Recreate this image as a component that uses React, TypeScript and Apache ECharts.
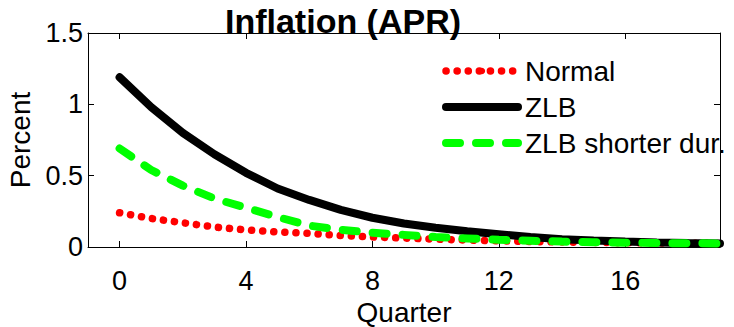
import React, { useEffect, useRef } from "react";
import * as echarts from "echarts";

const quarters = [0, 1, 2, 3, 4, 5, 6, 7, 8, 9, 10, 11, 12, 13, 14, 15, 16, 17, 18, 19];
const normal = [0.24, 0.2, 0.17, 0.14, 0.12, 0.105, 0.095, 0.08, 0.07, 0.062, 0.055, 0.048, 0.043, 0.038, 0.035, 0.032, 0.03, 0.028, 0.026, 0.025];
const zlb = [1.19, 0.98, 0.8, 0.65, 0.52, 0.41, 0.33, 0.26, 0.205, 0.165, 0.135, 0.11, 0.09, 0.07, 0.055, 0.045, 0.038, 0.032, 0.028, 0.025];
const zlbShort = [0.69, 0.54, 0.43, 0.34, 0.275, 0.21, 0.15, 0.12, 0.1, 0.085, 0.07, 0.06, 0.05, 0.044, 0.038, 0.034, 0.03, 0.028, 0.026, 0.025];
const xTicks = [0, 4, 8, 12, 16];
const seriesNames = ["Normal", "ZLB", "ZLB shorter dur."];
const titleText = "Inflation (APR)";

const FONT = "'Liberation Sans', Arial, Helvetica, sans-serif";

export default function App() {
  const ref = useRef<HTMLDivElement>(null);
  useEffect(() => {
    if (!ref.current) return;
    const chart = echarts.init(ref.current, undefined, { renderer: "svg" });
    const pair = (arr: number[]) => quarters.map((q, i) => [q, arr[i]]);
    const redStyle = { color: "#ff0000", width: 7.5, type: [0.1, 11] as any, cap: "round" as const };
    const blackStyle = { color: "#000000", width: 8, type: "solid" as const, cap: "round" as const };
    const greenStyle = { color: "#00ff00", width: 8, type: [14, 16] as any, cap: "round" as const };
    const axisCommon = {
      axisLine: { show: true, onZero: false, lineStyle: { color: "#000", width: 1 } },
      splitLine: { show: false },
    };
    chart.setOption({
      animation: false,
      textStyle: { fontFamily: FONT },
      grid: { left: 88, right: 14, top: 33, bottom: 80, containLabel: false, outerBoundsMode: "none" },
      graphic: [
        {
          type: "text",
          x: 343,
          y: 21,
          z: 100,
          style: {
            text: titleText,
            font: `bold 34px ${FONT}`,
            fill: "#000",
            textAlign: "center",
            textVerticalAlign: "middle",
          },
        },
      ],
      legend: {
        orient: "vertical",
        left: 442,
        top: 57,
        padding: 0,
        itemWidth: 72,
        itemHeight: 8,
        itemGap: 8,
        selectedMode: false,
        textStyle: { fontSize: 28, lineHeight: 28, color: "#000", fontFamily: FONT, padding: [0, 0, 0, 2] },
        data: [
          { name: seriesNames[0], lineStyle: redStyle },
          { name: seriesNames[1], lineStyle: blackStyle },
          { name: seriesNames[2], lineStyle: greenStyle },
        ],
      },
      xAxis: [
        {
          type: "value",
          min: -1,
          max: 19,
          position: "bottom",
          name: "Quarter",
          nameLocation: "middle",
          nameGap: 43,
          nameTextStyle: { fontSize: 28, color: "#000", fontFamily: FONT },
          ...axisCommon,
          axisTick: { show: true, inside: true, length: 6, customValues: xTicks, lineStyle: { color: "#000" } },
          axisLabel: { show: true, customValues: xTicks, fontSize: 27, color: "#000", margin: 20, fontFamily: FONT },
        },
        {
          type: "value",
          min: -1,
          max: 19,
          position: "top",
          ...axisCommon,
          axisTick: { show: true, inside: true, length: 6, customValues: xTicks, lineStyle: { color: "#000" } },
          axisLabel: { show: false },
        },
      ],
      yAxis: [
        {
          type: "value",
          min: 0,
          max: 1.5,
          interval: 0.5,
          position: "left",
          name: "Percent",
          nameLocation: "middle",
          nameGap: 51,
          nameTextStyle: { fontSize: 28, color: "#000", fontFamily: FONT },
          ...axisCommon,
          axisTick: { show: true, inside: true, length: 6, lineStyle: { color: "#000" } },
          axisLabel: { show: true, fontSize: 27, color: "#000", margin: 5, fontFamily: FONT },
        },
        {
          type: "value",
          min: 0,
          max: 1.5,
          interval: 0.5,
          position: "right",
          ...axisCommon,
          axisTick: { show: true, inside: true, length: 6, lineStyle: { color: "#000" } },
          axisLabel: { show: false },
        },
      ],
      series: [
        {
          name: seriesNames[0],
          type: "line",
          symbol: "none",
          data: pair(normal),
          lineStyle: redStyle,
          itemStyle: { color: "#ff0000" },
        },
        {
          name: seriesNames[1],
          type: "line",
          symbol: "none",
          data: pair(zlb),
          lineStyle: blackStyle,
          itemStyle: { color: "#000000" },
        },
        {
          name: seriesNames[2],
          type: "line",
          symbol: "none",
          data: pair(zlbShort),
          lineStyle: greenStyle,
          itemStyle: { color: "#00ff00" },
        },
      ],
    });
    return () => chart.dispose();
  }, []);
  return (
    <div
      ref={ref}
      style={{ position: "fixed", left: 0, top: 0, width: 734, height: 327, background: "#fff" }}
    />
  );
}
